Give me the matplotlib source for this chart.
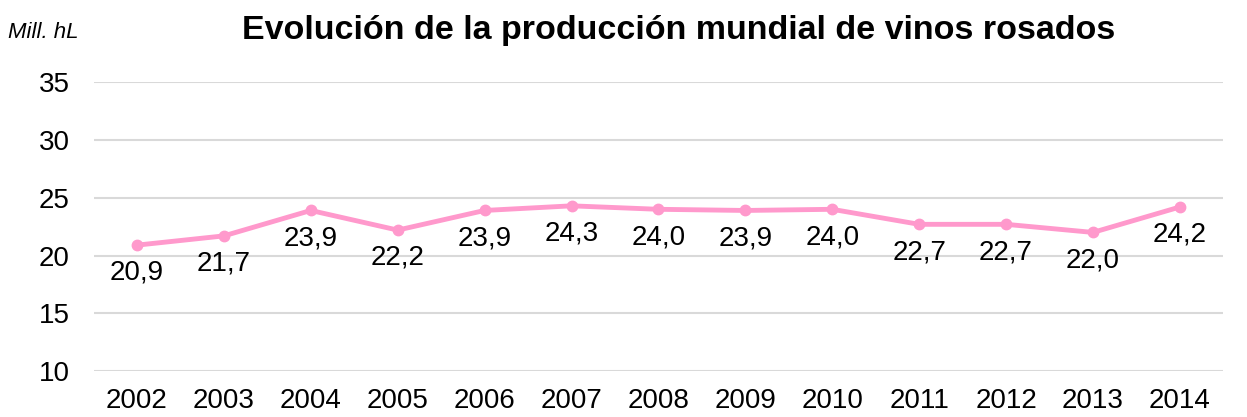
import numpy as np
import matplotlib.pyplot as plt

plt.rcParams['font.family'] = ['Liberation Sans', 'DejaVu Sans']

years = ['2002', '2003', '2004', '2005', '2006', '2007', '2008',
         '2009', '2010', '2011', '2012', '2013', '2014']
produccion = [20.9, 21.7, 23.9, 22.2, 23.9, 24.3, 24.0,
              23.9, 24.0, 22.7, 22.7, 22.0, 24.2]
yticks = [10, 15, 20, 25, 30, 35]

fig = plt.figure(figsize=(12.47, 4.17), dpi=100)
ax = fig.add_axes([0.075, 0.110, 0.906, 0.693])

x = np.arange(len(years))
ax.plot(x, produccion, color='#FF99CC', lw=3.5, marker='o', ms=7.5, zorder=3)

for xi, v in zip(x, produccion):
    ax.annotate(f'{v:.1f}'.replace('.', ','), (xi, v), xytext=(0, -20),
                textcoords='offset points', ha='center', va='center', fontsize=20)

ax.set_xlim(-0.5, len(years) - 0.5)
ax.set_ylim(10, 35)
ax.set_yticks(yticks)
ax.set_xticks(x)
ax.set_xticklabels(years)
ax.tick_params(axis='x', length=0, pad=12, labelsize=20)
ax.tick_params(axis='y', length=0, pad=17, labelsize=20)
ax.grid(axis='y', color='#D9D9D9', lw=1.5)
ax.set_axisbelow(True)
for s in ax.spines.values():
    s.set_visible(False)

fig.text(679 / 1247, 1 - 30 / 417, 'Evolución de la producción mundial de vinos rosados',
         ha='center', va='center', fontsize=24.5, fontweight='bold')
fig.text(8 / 1247, 1 - 32 / 417, 'Mill. hL', ha='left', va='center',
         fontsize=16, style='italic')

fig.savefig('out.png', dpi=100)
